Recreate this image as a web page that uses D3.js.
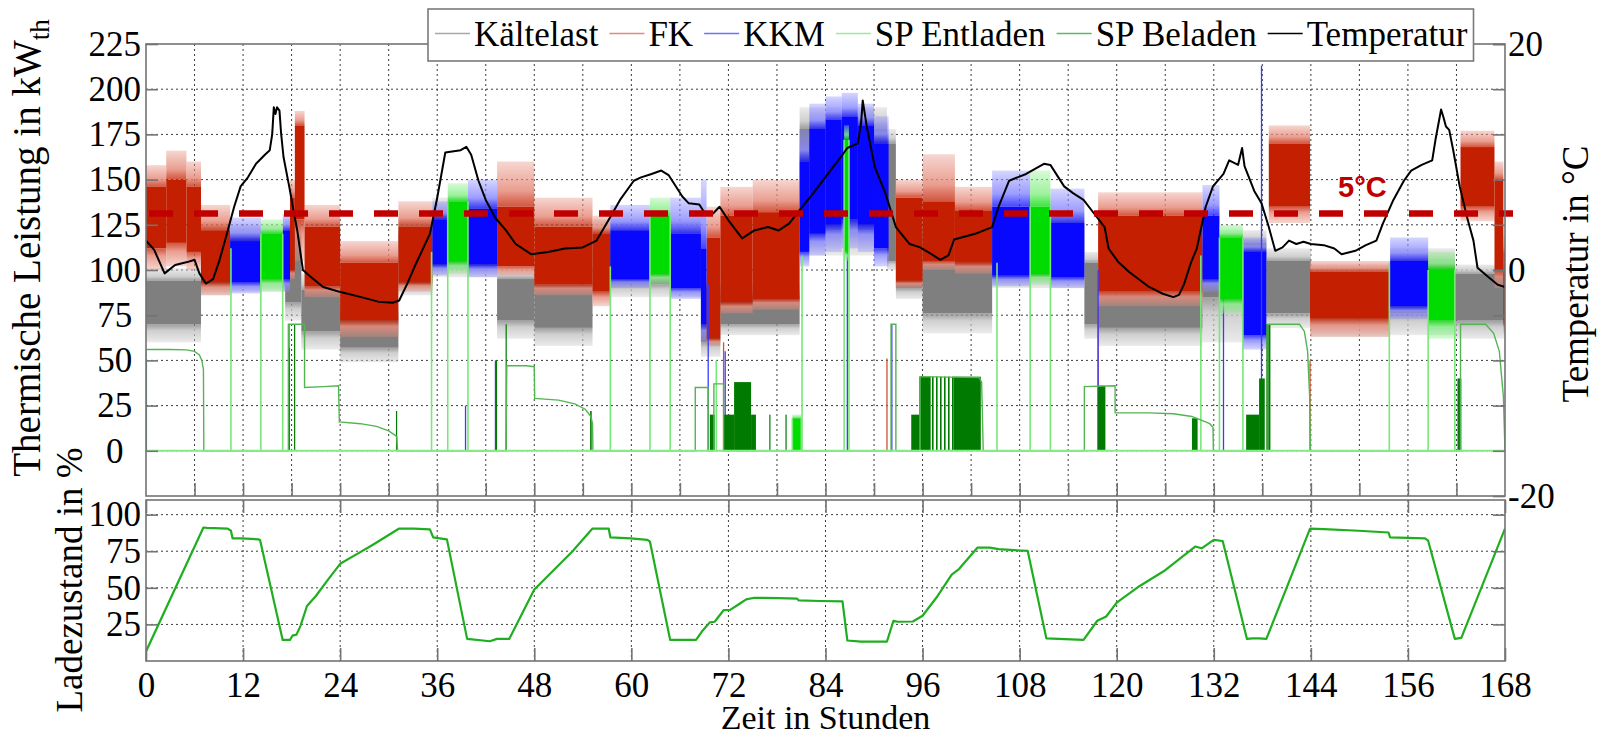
<!DOCTYPE html>
<html>
<head>
<meta charset="utf-8">
<script src="https://cdn.jsdelivr.net/npm/d3@7"></script>
<style>
  body { margin: 0; background: #fff; }
  svg { display: block; }
  svg text { font-family: "Liberation Serif", "Times New Roman", serif; }
  svg text.bold-sans { font-family: "Liberation Sans", Arial, sans-serif; font-weight: bold; }
</style>
</head>
<body>
<svg id="chart" width="1605" height="738"></svg>
<script>
// ---------------- tick labels ----------------
const hourTicks  = [0, 12, 24, 36, 48, 60, 72, 84, 96, 108, 120, 132, 144, 156, 168];
const hourGridTop = [6, 12, 18, 24, 30, 36, 42, 48, 54, 60, 66, 72, 78, 84, 90, 96, 102, 108, 114, 120, 126, 132, 138, 144, 150, 156, 162];
const powerTicks = [0, 25, 50, 75, 100, 125, 150, 175, 200, 225];
const powerGrid  = [0, 25, 50, 75, 100, 125, 150, 175, 200];
const tempTicks  = [-20, 0, 20];
const socTicks   = [25, 50, 75, 100];
const tempThreshold = [5];

// ---------------- thermal power bands ----------------
// [start h, end h, core low, core high, spike low, spike high] in kW
const kaeltelast = [
  [0, 6.8, 70, 94, 60, 101], [6.8, 10.4, 92, 118, 86, 124], [10.4, 17.2, 95, 118, 88, 125],
  [17.2, 19.2, 82, 120, 72, 128], [19.2, 24, 66, 89, 56, 98], [24, 31.2, 57, 76, 49, 84],
  [31.2, 35.4, 92, 120, 86, 128], [35.4, 43.4, 102, 130, 96, 140], [43.4, 48, 72, 95, 62, 101],
  [48, 55.2, 68, 92, 58, 100], [55.2, 68.6, 92, 120, 85, 128], [68.6, 71, 60, 90, 52, 96],
  [71, 80.8, 70, 86, 64, 92], [80.8, 91.6, 122, 178, 108, 190], [91.6, 92.7, 105, 170, 100, 178],
  [92.7, 96, 90, 118, 84, 124], [96, 104.6, 76, 104, 65, 112], [104.6, 116, 96, 125, 90, 132],
  [116, 117.7, 70, 104, 62, 110], [117.7, 130.6, 68, 86, 58, 92], [130.6, 138.5, 85, 115, 60, 122],
  [138.5, 144, 76, 105, 68, 112], [144, 153.8, 74, 97, 63, 103], [153.8, 161.8, 76, 104, 64, 112],
  [161.8, 168, 72, 98, 62, 103]
];
const fk = [
  [0, 2.5, 112, 146, 100, 158], [2.5, 5, 115, 150, 102, 166], [5, 6.8, 110, 146, 100, 160],
  [6.8, 10.4, 93, 122, 86, 136], [17.8, 18.4, 100, 140, 95, 150], [18.4, 19.6, 128, 180, 105, 188],
  [19.6, 24, 91, 124, 85, 136], [24, 31.2, 72, 104, 63, 116], [31.2, 35.4, 93, 124, 88, 138],
  [43.4, 48, 102, 135, 97, 160], [48, 55.2, 92, 124, 86, 140], [55.2, 57.4, 88, 120, 80, 130],
  [69.3, 71, 62, 118, 58, 135], [71, 75, 82, 130, 76, 146], [75, 80.8, 84, 132, 78, 150],
  [92.7, 96, 94, 140, 90, 150], [96, 100, 105, 138, 100, 164], [100, 104.6, 104, 133, 98, 146],
  [117.7, 130.6, 88, 130, 80, 143], [138.8, 143.9, 135, 170, 126, 180], [143.9, 153.8, 73, 99, 63, 105],
  [162.5, 166.7, 135, 168, 127, 177], [166.7, 167.8, 100, 150, 90, 160], [167.8, 168, 70, 110, 65, 120]
];
const kkm = [
  [10.4, 14.2, 93, 116, 87, 129], [16.9, 17.8, 95, 122, 88, 131], [35.4, 37.3, 103, 128, 97, 138],
  [39.8, 43.4, 103, 134, 96, 150], [57.4, 62.3, 95, 122, 90, 136], [64.8, 68.6, 90, 120, 84, 140],
  [68.6, 69.3, 70, 112, 60, 150], [80.8, 82, 110, 160, 102, 178], [82, 84, 120, 178, 108, 192],
  [84, 86, 125, 183, 110, 196], [86, 88, 128, 185, 112, 198], [88, 90, 125, 180, 110, 192],
  [90, 91.8, 112, 170, 102, 185], [104.6, 109.3, 97, 135, 91, 155], [111.8, 116, 96, 126, 90, 145],
  [130.6, 132.7, 95, 130, 88, 147], [135.6, 138.5, 64, 110, 56, 118], [153.8, 158.5, 80, 105, 73, 118]
];
const spEntladen = [
  [14.2, 16.9, 95, 120, 88, 128], [37.3, 39.8, 105, 138, 98, 148], [62.3, 64.8, 98, 130, 92, 140],
  [79.9, 81, 0, 18, 0, 20], [86.3, 86.9, 110, 172, 105, 180], [109.3, 111.8, 98, 135, 92, 155],
  [132.7, 135.6, 84, 118, 76, 125], [158.5, 161.8, 72, 100, 62, 110]
];

// single switching strokes [hour, peak kW]
const entladenSpikes = [[10.5, 112], [35.3, 110], [57.4, 102], [70.5, 50], [81.1, 108], [105.2, 104], [130.4, 108], [153.7, 104]];
const kkmSpikes = [[0.05, 50], [17.7, 57], [39.5, 25], [43.2, 50], [69.5, 92], [71.6, 55], [86.7, 110], [92.2, 70], [117.7, 100], [133.2, 100], [137.9, 213], [162.2, 40]];
const fkSpikes = [[71.4, 60], [91.6, 51], [117.7, 80], [143.9, 50]];

// storage charging power [hour, kW]
const spBeladen = [
  [0, 0], [0, 56], [3, 56], [5, 55.8], [6, 55], [6.6, 53], [6.9, 50], [7.1, 45], [7.15, 0],
  [17.6, 0], [17.6, 70], [19.6, 70], [19.6, 35], [22, 35.5], [23.8, 36], [23.9, 16], [26.5, 15], [28.5, 13.5], [30, 11], [31, 8], [31.1, 0],
  [44.5, 0], [44.6, 47], [47, 47], [48, 46.5], [48.05, 29], [51, 28], [53, 26], [54.3, 23], [55, 19], [55.2, 15], [55.25, 0],
  [67.9, 0], [67.9, 35], [69.5, 35], [69.5, 0], [70.2, 0], [70.2, 37], [71.4, 37], [71.4, 0],
  [92.1, 0], [92.1, 70], [92.7, 70], [92.7, 0],
  [95.7, 0], [95.7, 41], [103, 40.5], [103.3, 38], [103.5, 0],
  [116, 0], [116, 35.5], [119.8, 36], [119.8, 21], [124, 21], [127, 20.5], [129.3, 19], [131.5, 15], [131.9, 13], [131.95, 0],
  [138.7, 0], [138.7, 70], [142.6, 70], [143.2, 66], [143.6, 55], [143.85, 30], [143.95, 0],
  [162.5, 0], [162.5, 70], [165.6, 70], [166.6, 65], [167.3, 55], [167.8, 30], [168, 0]
];
// rapidly switching charging periods [start h, end h, kW, share of time on]
const spBeladenPulses = [
  [17.6, 17.75, 70, 1], [18.3, 18.45, 70, 1], [30.9, 31.05, 22, 1], [43.25, 43.4, 50, 1], [44.45, 44.6, 70, 1],
  [54.9, 55.1, 22, 1], [69.7, 70.3, 20, 1], [71.4, 72.7, 20, 1], [72.7, 74.8, 38, 1], [74.8, 75.4, 20, 1],
  [77.05, 77.15, 20, 1], [79.05, 79.15, 20, 1], [94.6, 95.6, 20, 1], [95.6, 97, 41, 1], [97, 99.8, 41, 0.5],
  [99.8, 103.2, 41, 1], [117.7, 118.6, 36, 1], [129.3, 130, 18, 1], [136, 137.6, 20, 1], [137.6, 138.3, 40, 1],
  [138.5, 139.0, 70, 1], [162.2, 162.6, 40, 1]
];

// outdoor temperature [hour, °C]
const temperatur = [
  [0, 2.6], [1, 1.8], [2.3, -0.3], [3.6, 0.45], [5.1, 0.7], [6, 0.9], [6.6, -0.3], [7.4, -1.2], [8.3, -0.8], [9.1, 0.9],
  [10, 3.2], [10.9, 5.6], [11.7, 7.4], [12.6, 8.2], [13.6, 9.4], [14.7, 10.2], [15.3, 10.6], [15.6, 12], [15.8, 14.4], [16, 13.8],
  [16.2, 14.4], [16.5, 14.1], [16.7, 12.1], [17, 10.0], [17.7, 7.4], [18.3, 5.0], [18.7, 3.5], [19.4, 0], [20.2, -0.5], [21.9, -1.5],
  [23.8, -1.9], [26.6, -2.4], [28.7, -2.8], [30.5, -2.9], [31.3, -2.7], [32.3, -1.2], [33.4, 0.6], [35.1, 3.2], [36, 6.4], [37, 10.4],
  [38.9, 10.6], [39.6, 10.9], [40.2, 10.2], [41.1, 7.9], [42, 6.2], [43.2, 4.6], [44.5, 3.5], [45.7, 2.3], [47.6, 1.4], [49.7, 1.6],
  [51.8, 1.9], [54, 2.0], [55.7, 2.6], [57.4, 4.7], [58.6, 6.2], [60.3, 7.9], [61.2, 8.2], [62.5, 8.5], [63.7, 8.8], [64.6, 8.4],
  [66.3, 6.5], [67.1, 5.9], [68.4, 5.8], [69.1, 5.0], [70.1, 5.0], [70.9, 5.6], [72, 4.4], [73.7, 2.8], [75.2, 3.5], [76.9, 3.8],
  [78.2, 3.5], [79.5, 4.1], [80.8, 5.3], [82.5, 6.8], [84.6, 8.8], [85.9, 10.0], [86.7, 10.8], [88, 11.2], [88.4, 13], [88.6, 15.0],
  [89.1, 12.7], [90.1, 9.1], [91.4, 6.8], [92.7, 3.8], [94.4, 2.3], [95.7, 2.0], [97.1, 1.4], [98.2, 0.9], [99.2, 1.3], [99.9, 2.7],
  [102.5, 3.2], [104.6, 3.8], [105.4, 5.6], [106.7, 7.9], [108.8, 8.5], [111, 9.4], [111.8, 9.3], [113.5, 7.4], [114.6, 6.8], [115.9, 6.2],
  [117.2, 5.0], [118.5, 3.8], [119, 1.9], [120.2, 0.7], [121.5, -0.15], [124, -1.5], [125.7, -2.1], [127, -2.4], [127.7, -2.2], [128.3, -1.3],
  [129.2, 0.7], [129.9, 1.9], [131, 5.6], [131.9, 7.4], [133.2, 8.5], [133.9, 9.7], [135, 9.3], [135.5, 10.8], [135.8, 9.2], [137, 7.0],
  [137.9, 5.9], [138.8, 3.8], [139.6, 1.7], [140.5, 2.0], [141.3, 2.6], [142.2, 2.3], [143.1, 2.5], [144, 2.3], [145.6, 2.2], [146.9, 1.9],
  [147.8, 1.4], [149.5, 1.7], [150.8, 2.2], [152.1, 2.6], [152.9, 4.1], [154.2, 6.2], [155.5, 7.9], [156.4, 8.8], [157.7, 9.3], [159, 9.7],
  [159.4, 11.5], [160.1, 14.2], [160.4, 13.5], [160.7, 12.7], [161.1, 12.4], [161.6, 10.6], [162.4, 7.4], [163.3, 4.7], [164.1, 2.6], [164.6, 0.2],
  [165.9, -0.6], [167.1, -1.3], [168, -1.5]
];

// storage state of charge [hour, %]
const ladezustand = [
  [0, 6.5], [7.1, 91.2], [7.5, 91], [10.1, 90.5], [10.5, 89], [10.7, 83.8], [11.8, 83.8], [13.9, 83.1], [14.1, 82.7], [16.9, 14.4],
  [17.8, 14.4], [18.1, 17.3], [18.6, 18], [19.1, 24], [19.9, 37.6], [21, 44.4], [22.5, 55.6], [24, 66.4], [25.9, 72.5], [28, 79.3],
  [31.3, 90.5], [33.1, 90.5], [35.1, 89.9], [35.5, 84.5], [36.3, 83.8], [37.2, 83.1], [39.7, 15.1], [42.5, 13.5], [43.4, 15.1], [44.9, 15.1],
  [48, 48.9], [52.7, 74.8], [55.2, 90.5], [57.2, 90.5], [57.4, 84.5], [59.9, 83.8], [62, 82.7], [62.3, 81.5], [64.8, 14.4], [68, 14.4],
  [68.8, 20.7], [69.7, 26.4], [70.3, 26.8], [71.4, 34.7], [72.2, 34.9], [73.1, 38.1], [74.2, 42.1], [75.2, 43.2], [78.2, 43], [80.5, 42.6],
  [80.7, 41.4], [83.3, 41], [86.1, 40.8], [86.7, 14], [88.4, 13.3], [91.6, 13.3], [92.4, 27.5], [92.9, 26.8], [94.8, 27], [96, 30.9],
  [97.7, 43.2], [99.6, 59], [100.5, 62.8], [102.8, 77.5], [104.3, 77.5], [105.4, 76.4], [109, 75.2], [111.3, 15.5], [115.9, 14.4], [117.6, 27.5],
  [118.7, 30.4], [120, 39.9], [122.8, 51.1], [125.8, 61.3], [129.7, 78.2], [130.5, 77], [132, 82.7], [133.1, 82], [136.1, 15.1], [136.8, 15.5],
  [137.6, 15.5], [138.5, 15.1], [143.9, 90.5], [145.6, 90.1], [149.9, 89], [153.6, 87.8], [153.8, 84.5], [158.1, 83.8], [158.5, 82.2], [161.8, 15.1],
  [162.6, 15.8], [168, 90.5]
];

const legendNames = ["Kältelast", "FK", "KKM", "SP Entladen", "SP Beladen", "Temperatur"];

// ---------------- styling ----------------
const palette = {
  kaelte: { core: "#7f7f7f", light: "#c6c6c6", legend: "#a8a8a8" },
  fk:     { core: "#c41f00", light: "#e68c7c", legend: "#e08a7a" },
  kkm:    { core: "#0808ff", light: "#8a8aff", legend: "#7070ff" },
  ent:    { core: "#00dc00", light: "#8cf08c", legend: "#96ee96" },
  bel:    { core: "#007a00", light: "#52b552", legend: "#5cb95c" },
  temp:   { legend: "#000" }
};
const frameColor = "#737373";
const gridColor = "#3c3c3c";
const fontSize = 35;
const serif = "'Liberation Serif', 'Times New Roman', serif";

const svg = d3.select("#chart");
const x  = d3.scaleLinear().domain([0, 168]).range([146, 1505]);
const yP = d3.scaleLinear().domain([-25, 225]).range([496, 44]);
const yT = d3.scaleLinear().domain([-20, 20]).range([496, 44]);
const yS = d3.scaleLinear().domain([0, 110]).range([661, 500]);

const defs = svg.append("defs");
defs.append("clipPath").attr("id", "clipTop").append("rect")
  .attr("x", x(0)).attr("y", yP(225)).attr("width", x(168) - x(0)).attr("height", yP(-25) - yP(225));
defs.append("clipPath").attr("id", "clipTopWide").append("rect")
  .attr("x", x(0)).attr("y", yP(225)).attr("width", x(168) - x(0) + 8).attr("height", yP(-25) - yP(225));
defs.append("clipPath").attr("id", "clipBot").append("rect")
  .attr("x", x(0)).attr("y", yS(110)).attr("width", x(168) - x(0)).attr("height", yS(0) - yS(110));

// fading fringes for the noisy bands
Object.entries(palette).forEach(([key, c]) => {
  if (!c.core) return;
  const up = defs.append("linearGradient").attr("id", `up-${key}`).attr("x1", 0).attr("y1", 1).attr("x2", 0).attr("y2", 0);
  up.append("stop").attr("offset", 0).attr("stop-color", c.core).attr("stop-opacity", 0.75);
  up.append("stop").attr("offset", 0.35).attr("stop-color", c.light).attr("stop-opacity", 0.85);
  up.append("stop").attr("offset", 1).attr("stop-color", c.light).attr("stop-opacity", 0.35);
  const dn = defs.append("linearGradient").attr("id", `dn-${key}`).attr("x1", 0).attr("y1", 0).attr("x2", 0).attr("y2", 1);
  dn.append("stop").attr("offset", 0).attr("stop-color", c.core).attr("stop-opacity", 0.75);
  dn.append("stop").attr("offset", 0.35).attr("stop-color", c.light).attr("stop-opacity", 0.85);
  dn.append("stop").attr("offset", 1).attr("stop-color", c.light).attr("stop-opacity", 0.35);
});
// sparse on/off switching drawn as thin strokes
const stripes = defs.append("pattern").attr("id", "belStripes").attr("patternUnits", "userSpaceOnUse")
  .attr("width", 4).attr("height", 10);
stripes.append("rect").attr("x", 0).attr("y", 0).attr("width", 1.6).attr("height", 10).attr("fill", palette.bel.core);

// ---------------- top panel grid ----------------
const gridTop = svg.append("g");
gridTop.selectAll(null).data(powerGrid).join("line")
  .attr("x1", x(0)).attr("x2", x(168)).attr("y1", d => yP(d)).attr("y2", d => yP(d))
  .attr("stroke", gridColor).attr("stroke-width", 1).attr("stroke-dasharray", "2,3");
gridTop.selectAll(null).data(hourGridTop).join("line")
  .attr("x1", d => x(d)).attr("x2", d => x(d)).attr("y1", yP(225)).attr("y2", yP(-25))
  .attr("stroke", gridColor).attr("stroke-width", 1).attr("stroke-dasharray", "2,3");

// ---------------- top panel series ----------------
const plot = svg.append("g").attr("clip-path", "url(#clipTop)");

function bandLayer(segs, key) {
  const c = palette[key];
  const g = plot.append("g");
  const w = d => Math.max(1, x(d[1]) - x(d[0]));
  g.selectAll(null).data(segs).join("rect")
    .attr("x", d => x(d[0])).attr("width", w)
    .attr("y", d => yP(d[5])).attr("height", d => Math.max(0, yP(d[3]) - yP(d[5])))
    .attr("fill", `url(#up-${key})`);
  g.selectAll(null).data(segs).join("rect")
    .attr("x", d => x(d[0])).attr("width", w)
    .attr("y", d => yP(d[2])).attr("height", d => Math.max(0, yP(d[4]) - yP(d[2])))
    .attr("fill", `url(#dn-${key})`);
  g.selectAll(null).data(segs).join("rect")
    .attr("x", d => x(d[0])).attr("width", w)
    .attr("y", d => yP(d[3])).attr("height", d => yP(d[2]) - yP(d[3]))
    .attr("fill", c.core);
  return g;
}
function spikeLayer(spikes, color, width) {
  plot.append("g").selectAll(null).data(spikes).join("line")
    .attr("x1", d => x(d[0])).attr("x2", d => x(d[0]))
    .attr("y1", yP(0)).attr("y2", d => yP(d[1]))
    .attr("stroke", color).attr("stroke-width", width);
}

bandLayer(kaeltelast, "kaelte");
bandLayer(fk, "fk");
spikeLayer(fkSpikes, "#d0502f", 1.3);
bandLayer(kkm, "kkm");
spikeLayer(kkmSpikes, "#3a3aff", 1.3);
bandLayer(spEntladen, "ent");
// discharge switching edges: vertical strokes from zero up to each block
const entEdges = spEntladen.flatMap(s => [[s[0], s[3]], [s[1], s[3]]]);
spikeLayer(entEdges.concat(entladenSpikes), "#78e878", 1.6);

// charging pulses and charging power
plot.append("g").selectAll(null).data(spBeladenPulses).join("rect")
  .attr("x", d => x(d[0])).attr("width", d => Math.max(1.2, x(d[1]) - x(d[0])))
  .attr("y", d => yP(d[2])).attr("height", d => yP(0) - yP(d[2]))
  .attr("fill", d => d[3] < 1 ? "url(#belStripes)" : palette.bel.core);
plot.append("path").datum(spBeladen)
  .attr("d", d3.line().x(d => x(d[0])).y(d => yP(d[1])))
  .attr("fill", "none").attr("stroke", palette.bel.light).attr("stroke-width", 1.4);

// discharge power at rest (zero line)
plot.append("line").attr("x1", x(0)).attr("x2", x(168)).attr("y1", yP(0)).attr("y2", yP(0))
  .attr("stroke", "#84ec84").attr("stroke-width", 2);

// 5 °C reference line
const thr = svg.append("g").attr("clip-path", "url(#clipTopWide)");
thr.selectAll(null).data(tempThreshold).join("line")
  .attr("x1", x(0)).attr("x2", x(168) + 8).attr("y1", d => yT(d)).attr("y2", d => yT(d))
  .attr("stroke", "#c00000").attr("stroke-width", 6.5).attr("stroke-dasharray", "24,21")
  .attr("stroke-dashoffset", -3);

// temperature
plot.append("path").datum(temperatur)
  .attr("d", d3.line().x(d => x(d[0])).y(d => yT(d[1])))
  .attr("fill", "none").attr("stroke", "#000").attr("stroke-width", 2).attr("stroke-linejoin", "round");

svg.selectAll(null).data(tempThreshold).join("text")
  .attr("class", "bold-sans")
  .attr("x", 1338).attr("y", d => yT(d) - 17)
  .attr("font-size", 29).attr("fill", "#c00000")
  .text(d => `${d}°C`);

// ---------------- top panel frame & axes ----------------
svg.append("rect").attr("x", x(0)).attr("y", yP(225)).attr("width", x(168) - x(0)).attr("height", yP(-25) - yP(225))
  .attr("fill", "none").attr("stroke", frameColor).attr("stroke-width", 1.6);

function styleAxis(g) {
  g.attr("font-family", serif).attr("font-size", fontSize);
  g.select(".domain").remove();
  g.selectAll(".tick line").attr("stroke", frameColor).attr("stroke-width", 1.6);
  g.selectAll(".tick text").attr("fill", "#000").style("font-family", serif).style("font-size", fontSize + "px");
}
const plain = d => String(d);

const axPL = svg.append("g").attr("transform", `translate(${x(0)},0)`)
  .call(d3.axisLeft(yP).tickValues(powerTicks).tickSize(-12).tickPadding(5).tickFormat(plain)).call(styleAxis);
// labels share a fixed three-character cell, shorter ones sit further left
axPL.selectAll(".tick text").attr("x", d => -5 - (3 - String(d).length) * 8.75);

svg.append("g").attr("transform", `translate(${x(168)},0)`)
  .call(d3.axisRight(yP).tickValues(powerTicks).tickSize(-12).tickFormat("")).call(styleAxis);
svg.append("g").attr("transform", `translate(${x(168)},0)`)
  .call(d3.axisRight(yT).tickValues(tempTicks).tickSize(-12).tickPadding(3).tickFormat(plain)).call(styleAxis);
svg.append("g").attr("transform", `translate(0,${yP(-25)})`)
  .call(d3.axisBottom(x).tickValues(hourGridTop).tickSize(-13).tickFormat("")).call(styleAxis);

// ---------------- bottom panel ----------------
const gridBot = svg.append("g");
gridBot.selectAll(null).data(socTicks).join("line")
  .attr("x1", x(0)).attr("x2", x(168)).attr("y1", d => yS(d)).attr("y2", d => yS(d))
  .attr("stroke", gridColor).attr("stroke-width", 1).attr("stroke-dasharray", "2,3");
gridBot.selectAll(null).data(hourTicks.slice(1, -1)).join("line")
  .attr("x1", d => x(d)).attr("x2", d => x(d)).attr("y1", yS(110)).attr("y2", yS(0))
  .attr("stroke", gridColor).attr("stroke-width", 1).attr("stroke-dasharray", "2,3");

svg.append("g").attr("clip-path", "url(#clipBot)").append("path").datum(ladezustand)
  .attr("d", d3.line().x(d => x(d[0])).y(d => yS(d[1])))
  .attr("fill", "none").attr("stroke", "#1fae1f").attr("stroke-width", 2.2).attr("stroke-linejoin", "round");

svg.append("rect").attr("x", x(0)).attr("y", yS(110)).attr("width", x(168) - x(0)).attr("height", yS(0) - yS(110))
  .attr("fill", "none").attr("stroke", frameColor).attr("stroke-width", 1.6);

svg.append("g").attr("transform", `translate(${x(0)},0)`)
  .call(d3.axisLeft(yS).tickValues(socTicks).tickSize(-12).tickPadding(5).tickFormat(plain)).call(styleAxis);
svg.append("g").attr("transform", `translate(${x(168)},0)`)
  .call(d3.axisRight(yS).tickValues(socTicks).tickSize(-12).tickFormat("")).call(styleAxis);
svg.append("g").attr("transform", `translate(0,${yS(0)})`)
  .call(d3.axisBottom(x).tickValues(hourTicks).tickSize(-13).tickPadding(11).tickFormat(plain)).call(styleAxis);
svg.append("g").attr("transform", `translate(0,${yS(110)})`)
  .call(d3.axisTop(x).tickValues(hourTicks).tickSize(-13).tickFormat("")).call(styleAxis);

// ---------------- axis titles ----------------
const t1 = svg.append("text").attr("transform", "translate(40,248) rotate(-90)")
  .attr("text-anchor", "middle").attr("font-size", 39);
t1.append("tspan").text("Thermische Leistung in kW");
t1.append("tspan").attr("font-size", 27).attr("dy", 9).text("th");

svg.append("text").attr("transform", "translate(82,580) rotate(-90)")
  .attr("text-anchor", "middle").attr("font-size", 37).text("Ladezustand in %");

svg.append("text").attr("transform", "translate(1588,274) rotate(-90)")
  .attr("text-anchor", "middle").attr("font-size", 37).text("Temperatur in °C");

svg.append("text").attr("x", (x(0) + x(168)) / 2).attr("y", 729)
  .attr("text-anchor", "middle").attr("font-size", 34).text("Zeit in Stunden");

// ---------------- legend ----------------
const legendKeys = ["kaelte", "fk", "kkm", "ent", "bel", "temp"];
const leg = svg.append("g");
const legBox = leg.append("rect").attr("x", 428).attr("y", 9).attr("height", 52)
  .attr("fill", "#fff").attr("stroke", "#7a7a7a").attr("stroke-width", 1.6);
let cx = 435;
legendNames.forEach((name, i) => {
  leg.append("line").attr("x1", cx).attr("x2", cx + 35).attr("y1", 33.5).attr("y2", 33.5)
    .attr("stroke", palette[legendKeys[i]].legend).attr("stroke-width", i === 5 ? 1.6 : 1.4);
  const t = leg.append("text").attr("x", cx + 39).attr("y", 46).attr("font-size", fontSize).text(name);
  cx = cx + 39 + t.node().getComputedTextLength() + 11;
});
legBox.attr("width", cx - 11 + 6 - 428);
</script>
</body>
</html>
